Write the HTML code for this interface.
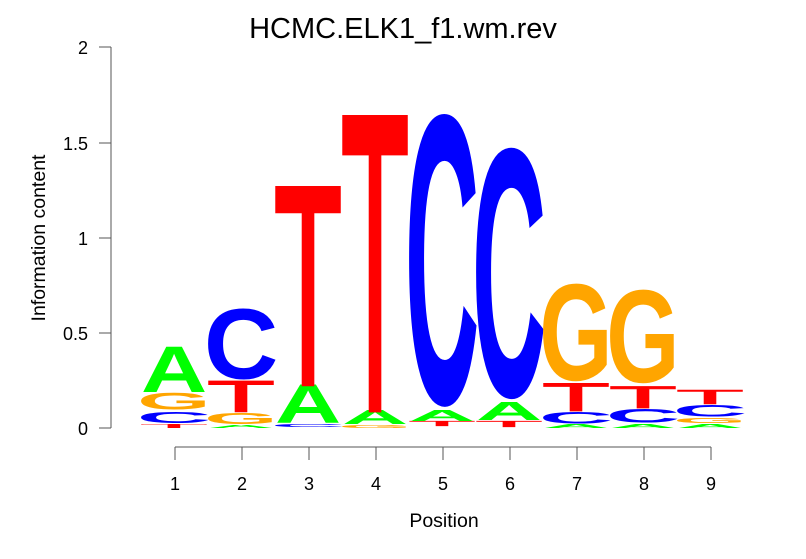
<!DOCTYPE html>
<html><head><meta charset="utf-8"><style>
body{margin:0;background:#fff;}
svg{display:block;font-family:"Liberation Sans",sans-serif;}
</style></head><body>
<svg width="806" height="559" viewBox="0 0 806 559" xmlns="http://www.w3.org/2000/svg">
<defs>
<symbol id="A" viewBox="0 -68.8 72 68.8" preserveAspectRatio="none" overflow="visible"><text x="0" y="0" font-size="100" font-weight="bold" fill="#00ff00">A</text></symbol>
<symbol id="C" viewBox="4 -70.3 64 71.8" preserveAspectRatio="none" overflow="visible"><text x="0" y="0" font-size="100" font-weight="bold" fill="#0000ff">C</text></symbol>
<symbol id="G" viewBox="4 -70.3 70 71.8" preserveAspectRatio="none" overflow="visible"><text x="0" y="0" font-size="100" font-weight="bold" fill="#ffa500">G</text></symbol>
<symbol id="T" viewBox="1 -69.8 59 70" preserveAspectRatio="none" overflow="visible"><text x="0" y="0" font-size="100" fill="#ff0000" stroke="#ff0000" stroke-width="2">T</text></symbol>
</defs>
<text x="403" y="38" font-size="29" text-anchor="middle">HCMC.ELK1_f1.wm.rev</text>
<g stroke="#555" stroke-width="1" fill="none">
<path d="M111 47V428M99 47H111M99 143H111M99 238H111M99 333H111M99 428H111"/>
<path d="M175 447H711M175 447V460M242 447V460M309 447V460M376 447V460M443 447V460M510 447V460M577 447V460M644 447V460M711 447V460"/>
</g>
<g font-size="18" text-anchor="end">
<text x="88" y="435">0</text><text x="88" y="340">0.5</text><text x="88" y="245">1</text><text x="88" y="150">1.5</text><text x="88" y="54">2</text>
</g>
<g font-size="18" text-anchor="middle">
<text x="175" y="490">1</text><text x="242" y="490">2</text><text x="309" y="490">3</text><text x="376" y="490">4</text><text x="443" y="490">5</text><text x="510" y="490">6</text><text x="577" y="490">7</text><text x="644" y="490">8</text><text x="711" y="490">9</text>
</g>
<text x="444" y="527" font-size="19.5" text-anchor="middle">Position</text>
<text transform="translate(45,238) rotate(-90)" font-size="19.5" text-anchor="middle">Information content</text>
<!-- pos1 -->
<use href="#T" x="141" y="424" width="66" height="4"/>
<use href="#C" x="141" y="412" width="66" height="11"/>
<use href="#G" x="141" y="393" width="66" height="17"/>
<use href="#A" x="141" y="347" width="66" height="45"/>
<!-- pos2 -->
<use href="#A" x="208" y="425" width="66" height="3"/>
<use href="#G" x="208" y="413" width="66" height="11"/>
<use href="#T" x="208" y="381" width="66" height="31"/>
<use href="#C" x="208" y="308" width="66" height="72"/>
<!-- pos3 -->
<use href="#C" x="275" y="424" width="66" height="3"/>
<use href="#A" x="275" y="385" width="66" height="38"/>
<use href="#T" x="275" y="186" width="66" height="198"/>
<!-- pos4 -->
<use href="#G" x="342" y="425" width="66" height="3"/>
<use href="#A" x="342" y="410" width="66" height="14"/>
<use href="#T" x="342" y="115" width="66" height="294"/>
<!-- pos5 -->
<use href="#T" x="409" y="421" width="66" height="5"/>
<use href="#A" x="409" y="410" width="66" height="11"/>
<use href="#C" x="409" y="112" width="66" height="297"/>
<!-- pos6 -->
<use href="#T" x="476" y="421" width="66" height="6"/>
<use href="#A" x="476" y="402" width="66" height="18"/>
<use href="#C" x="476" y="146" width="66" height="255"/>
<!-- pos7 -->
<use href="#A" x="543" y="424" width="66" height="4"/>
<use href="#C" x="543" y="412" width="66" height="12"/>
<use href="#T" x="543" y="383" width="66" height="28"/>
<use href="#G" x="543" y="283" width="66" height="99"/>
<!-- pos8 -->
<use href="#A" x="610" y="424" width="66" height="4"/>
<use href="#C" x="610" y="409" width="66" height="14"/>
<use href="#T" x="610" y="386" width="66" height="22"/>
<use href="#G" x="610" y="289" width="66" height="95"/>
<!-- pos9 -->
<use href="#A" x="677" y="424" width="66" height="4"/>
<use href="#G" x="677" y="418" width="66" height="5"/>
<use href="#C" x="677" y="405" width="66" height="12"/>
<use href="#T" x="677" y="390" width="66" height="14"/>
</svg>
</body></html>
